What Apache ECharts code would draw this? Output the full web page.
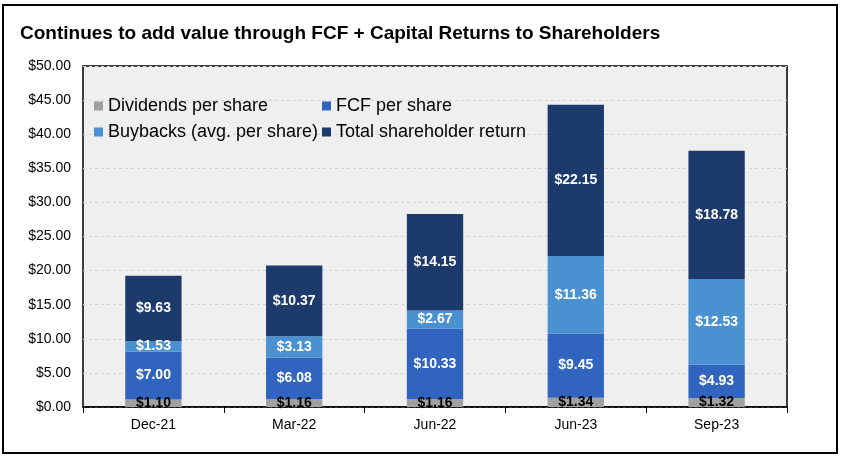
<!DOCTYPE html>
<html><head><meta charset="utf-8">
<script src="https://cdn.jsdelivr.net/npm/echarts@6/dist/echarts.min.js"></script>
<style>html,body{margin:0;padding:0;background:#fff}#c{width:843px;height:464px}</style>
</head><body><div id="c"></div>
<script>
const categories = ['Dec-21', 'Mar-22', 'Jun-22', 'Jun-23', 'Sep-23'];
const dividends = [1.10, 1.16, 1.16, 1.34, 1.32];
const fcf = [7.00, 6.08, 10.33, 9.45, 4.93];
const buybacks = [1.53, 3.13, 2.67, 11.36, 12.53];
const total = [9.63, 10.37, 14.15, 22.15, 18.78];
const names = ['Dividends per share', 'FCF per share', 'Buybacks (avg. per share)', 'Total shareholder return'];
const colors = ['#a0a0a0', '#3064bf', '#4a91d2', '#1d3a6d'];
const ff = 'Liberation Sans, Arial, sans-serif';

const chart = echarts.init(document.getElementById('c'), null, {renderer: 'canvas'});
const mk = (i, data, labelColor) => ({
  name: names[i], type: 'bar', stack: 's', data: data, barWidth: '40%',
  itemStyle: {color: colors[i]},
  label: {show: true, position: 'inside', color: labelColor, fontWeight: 'bold', fontSize: 14, fontFamily: ff,
    formatter: p => '$' + p.value.toFixed(2)}
});
const legendBase = {orient: 'vertical', top: 92, itemWidth: 9, itemHeight: 9, itemGap: 8, icon: 'rect',
  textStyle: {fontFamily: ff, fontSize: 18, color: '#000', padding: [0, 0, 0, 0]}};
chart.setOption({
  animation: false,
  title: {text: 'Continues to add value through FCF + Capital Returns to Shareholders', left: 15, top: 19,
    textStyle: {fontFamily: ff, fontWeight: 'bold', fontSize: 19, color: '#000'}},
  graphic: [{type: 'rect', shape: {x: 3, y: 5, width: 834, height: 448}, style: {fill: 'none', stroke: '#000', lineWidth: 2}, silent: true}],
  legend: [
    Object.assign({}, legendBase, {left: 89, data: [names[0], names[2]]}),
    Object.assign({}, legendBase, {left: 317, data: [names[1], names[3]]})
  ],
  grid: {left: 83, right: 56, top: 66, bottom: 57, show: true, backgroundColor: '#efefef', borderColor: '#000', borderWidth: 1.5},
  xAxis: {type: 'category', data: categories,
    axisLine: {lineStyle: {color: '#000', width: 1.5}},
    axisTick: {show: true, length: 6, lineStyle: {color: '#000'}},
    axisLabel: {fontFamily: ff, fontSize: 14, color: '#000', margin: 11}},
  yAxis: {type: 'value', min: 0, max: 50, interval: 5,
    axisLine: {show: false}, axisTick: {show: false},
    splitLine: {lineStyle: {color: '#d4d4d4', type: [3, 3]}},
    axisLabel: {fontFamily: ff, fontSize: 14, color: '#000', margin: 12, formatter: v => '$' + v.toFixed(2)}},
  series: [mk(0, dividends, '#000'), mk(1, fcf, '#fff'), mk(2, buybacks, '#fff'), mk(3, total, '#fff')]
});
</script></body></html>
